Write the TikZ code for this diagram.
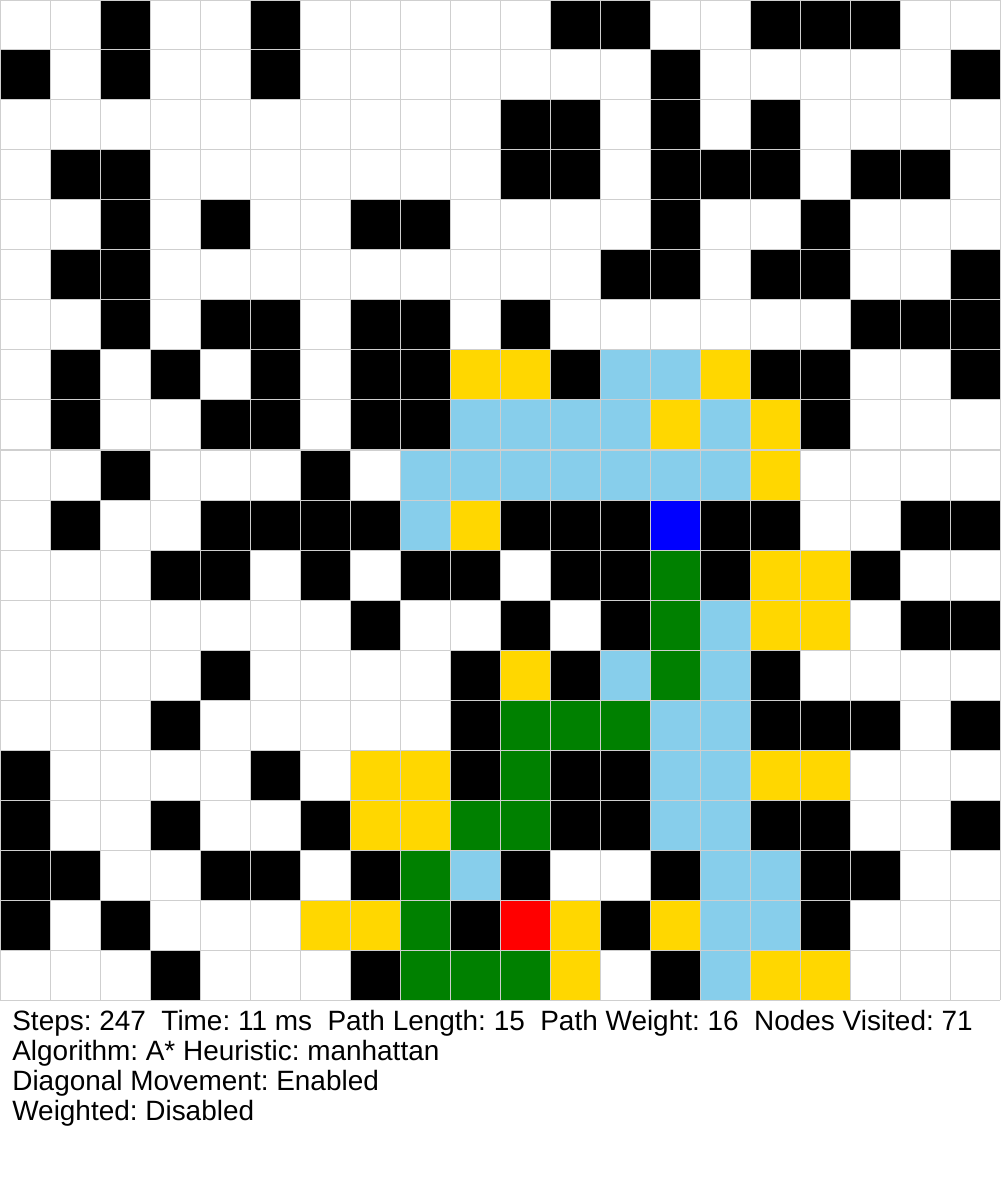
\documentclass[tikz,border=0pt]{standalone}
\usepackage{fontspec}
\setmainfont{Liberation Sans}
\usetikzlibrary{positioning}
\definecolor{wallblack}{HTML}{000000}
\definecolor{opengold}{HTML}{FFD700}
\definecolor{closedsky}{HTML}{87CEEB}
\definecolor{pathgreen}{HTML}{008000}
\definecolor{startblue}{HTML}{0000FF}
\definecolor{goalred}{HTML}{FF0000}
\definecolor{linegray}{HTML}{CFCFCF}
\tikzset{
  wallcell/.style={fill=wallblack},
  opencell/.style={fill=opengold},
  closedcell/.style={fill=closedsky},
  pathcell/.style={fill=pathgreen},
  startcell/.style={fill=startblue},
  goalcell/.style={fill=goalred},
  gridline/.style={draw=linegray, line width=0.02cm},
  info/.style={anchor=north west, inner sep=0pt, text height=0.44cm, text depth=0.15cm,
               font=\fontsize{15.9pt}{16.8pt}\selectfont\frenchspacing},
}

\begin{document}
\begin{tikzpicture}[x=1cm, y=-1cm]
  \fill[white] (0,0) rectangle (20,24);
  \useasboundingbox (0,0) rectangle (20,24);

  \foreach \row/\cols in {0/{2,5,11,12,15,16,17}, 1/{0,2,5,13,19}, 2/{10,11,13,15},
      3/{1,2,10,11,13,14,15,17,18}, 4/{2,4,7,8,13,16}, 5/{1,2,12,13,15,16,19},
      6/{2,4,5,7,8,10,17,18,19}, 7/{1,3,5,7,8,11,15,16,19}, 8/{1,4,5,7,8,16}, 9/{2,6},
      10/{1,4,5,6,7,10,11,12,14,15,18,19}, 11/{3,4,6,8,9,11,12,14,17}, 12/{7,10,12,18,19},
      13/{4,9,11,15}, 14/{3,9,15,16,17,19}, 15/{0,5,9,11,12}, 16/{0,3,6,11,12,15,16,19},
      17/{0,1,4,5,7,10,13,16,17}, 18/{0,2,9,12,16}, 19/{3,7,13}}
    \foreach \col in \cols
      \fill[wallcell] (\col,\row) rectangle ++(1,1);

  \foreach \row/\cols in {7/{9,10,14}, 8/{13,15}, 9/{15}, 10/{9}, 11/{15,16}, 12/{15,16},
      13/{10}, 15/{7,8,15,16}, 16/{7,8}, 18/{6,7,11,13}, 19/{11,15,16}}
    \foreach \col in \cols
      \fill[opencell] (\col,\row) rectangle ++(1,1);

  \foreach \row/\cols in {7/{12,13}, 8/{9,10,11,12,14}, 9/{8,9,10,11,12,13,14}, 10/{8},
      12/{14}, 13/{12,14}, 14/{13,14}, 15/{13,14}, 16/{13,14}, 17/{9,14,15}, 18/{14,15}, 19/{14}}
    \foreach \col in \cols
      \fill[closedcell] (\col,\row) rectangle ++(1,1);

  \foreach \row/\cols in {11/{13}, 12/{13}, 13/{13}, 14/{10,11,12}, 15/{10}, 16/{9,10},
      17/{8}, 18/{8}, 19/{8,9,10}}
    \foreach \col in \cols
      \fill[pathcell] (\col,\row) rectangle ++(1,1);

  \fill[startcell] (13,10) rectangle ++(1,1);
  \fill[goalcell] (10,18) rectangle ++(1,1);

  \draw[gridline] (0,0) grid (20,20);

  \node[info] (stats) at (0.24,20.16) {Steps: 247\ \ Time: 11 ms\ \ Path Length: 15\ \ Path Weight: 16\ \ Nodes Visited: 71};
  \node[info, below=0pt of stats.south west, anchor=north west] (algo) {Algorithm: A* Heuristic: manhattan};
  \node[info, below=0pt of algo.south west, anchor=north west] (diag) {Diagonal Movement: Enabled};
  \node[info, below=0pt of diag.south west, anchor=north west] (weight) {Weighted: Disabled};
\end{tikzpicture}
\end{document}
